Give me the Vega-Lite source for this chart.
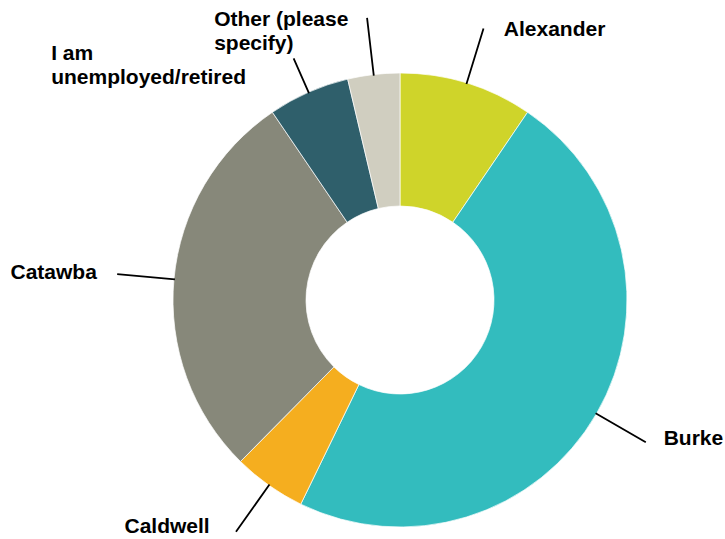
{
  "$schema": "https://vega.github.io/schema/vega-lite/v6.json",
  "width": 650,
  "height": 478,
  "autosize": {"type": "none"},
  "padding": {"left": 75, "top": 61, "right": 0, "bottom": 0},
  "background": "white",
  "view": {"stroke": null},
  "data": {
    "values": [
      {"category": "Alexander", "label": "Alexander", "value": 9.5},
      {"category": "Burke", "label": "Burke", "value": 47.7},
      {"category": "Caldwell", "label": "Caldwell", "value": 5.2},
      {"category": "Catawba", "label": "Catawba", "value": 28.1},
      {"category": "I am unemployed/retired", "label": "I am\nunemployed/retired", "value": 5.8},
      {"category": "Other (please specify)", "label": "Other (please\nspecify)", "value": 3.7}
    ]
  },
  "encoding": {
    "theta": {"field": "value", "type": "quantitative", "stack": true, "scale": {"domain": [0, 100]}},
    "detail": {"field": "category", "type": "nominal"},
    "order": {"field": "category", "type": "ordinal", "sort": "ascending"}
  },
  "layer": [
    {
      "mark": {"type": "arc", "outerRadius": 227, "innerRadius": 94, "stroke": "white", "strokeWidth": 0.7},
      "encoding": {
        "color": {
          "field": "category",
          "type": "nominal",
          "legend": null,
          "scale": {
            "domain": ["Alexander", "Burke", "Caldwell", "Catawba", "I am unemployed/retired", "Other (please specify)"],
            "range": ["#CFD42A", "#33BCBE", "#F5AE1F", "#87887A", "#2F5F6B", "#D0CEC0"]
          }
        }
      }
    },
    {
      "mark": {"type": "arc", "innerRadius": 226, "outerRadius": 284, "padAngle": 3.14, "fill": "transparent", "stroke": "#000", "strokeWidth": 1.8},
      "encoding": {"strokeOpacity": {"condition": {"test": "datum.category === 'I am unemployed/retired'", "value": 0}, "value": 1}}
    },
    {
      "mark": {"type": "arc", "innerRadius": 226, "outerRadius": 264, "padAngle": 3.14, "fill": "transparent", "stroke": "#000", "strokeWidth": 1.8},
      "encoding": {"strokeOpacity": {"condition": {"test": "datum.category === 'I am unemployed/retired'", "value": 1}, "value": 0}}
    },
    {
      "mark": {"type": "text", "radius": 285, "dx": 20, "dy": 8.4, "align": "left", "baseline": "alphabetic", "font": "Liberation Sans", "fontWeight": "bold", "fontSize": 21, "fill": "#000"},
      "encoding": {"text": {"condition": {"test": "datum.category === 'Alexander'", "field": "label"}, "value": ""}}
    },
    {
      "mark": {"type": "text", "radius": 285, "dx": 17, "dy": 2, "align": "left", "baseline": "alphabetic", "font": "Liberation Sans", "fontWeight": "bold", "fontSize": 21, "fill": "#000"},
      "encoding": {"text": {"condition": {"test": "datum.category === 'Burke'", "field": "label"}, "value": ""}}
    },
    {
      "mark": {"type": "text", "radius": 285, "dx": -25.7, "dy": 0, "align": "right", "baseline": "alphabetic", "font": "Liberation Sans", "fontWeight": "bold", "fontSize": 21, "fill": "#000"},
      "encoding": {"text": {"condition": {"test": "datum.category === 'Caldwell'", "field": "label"}, "value": ""}}
    },
    {
      "mark": {"type": "text", "radius": 285, "dx": -19.3, "dy": 4.8, "align": "right", "baseline": "alphabetic", "font": "Liberation Sans", "fontWeight": "bold", "fontSize": 21, "fill": "#000"},
      "encoding": {"text": {"condition": {"test": "datum.category === 'Catawba'", "field": "label"}, "value": ""}}
    },
    {
      "mark": {"type": "text", "radius": 285, "dx": -234, "dy": 4, "align": "left", "baseline": "top", "lineBreak": "\n", "lineHeight": 23.5, "font": "Liberation Sans", "fontWeight": "bold", "fontSize": 21, "fill": "#000"},
      "encoding": {"text": {"condition": {"test": "datum.category === 'I am unemployed/retired'", "field": "label"}, "value": ""}}
    },
    {
      "mark": {"type": "text", "radius": 285, "dx": -152.8, "dy": -7.5, "align": "left", "baseline": "top", "lineBreak": "\n", "lineHeight": 23.5, "font": "Liberation Sans", "fontWeight": "bold", "fontSize": 21, "fill": "#000"},
      "encoding": {"text": {"condition": {"test": "datum.category === 'Other (please specify)'", "field": "label"}, "value": ""}}
    }
  ]
}
